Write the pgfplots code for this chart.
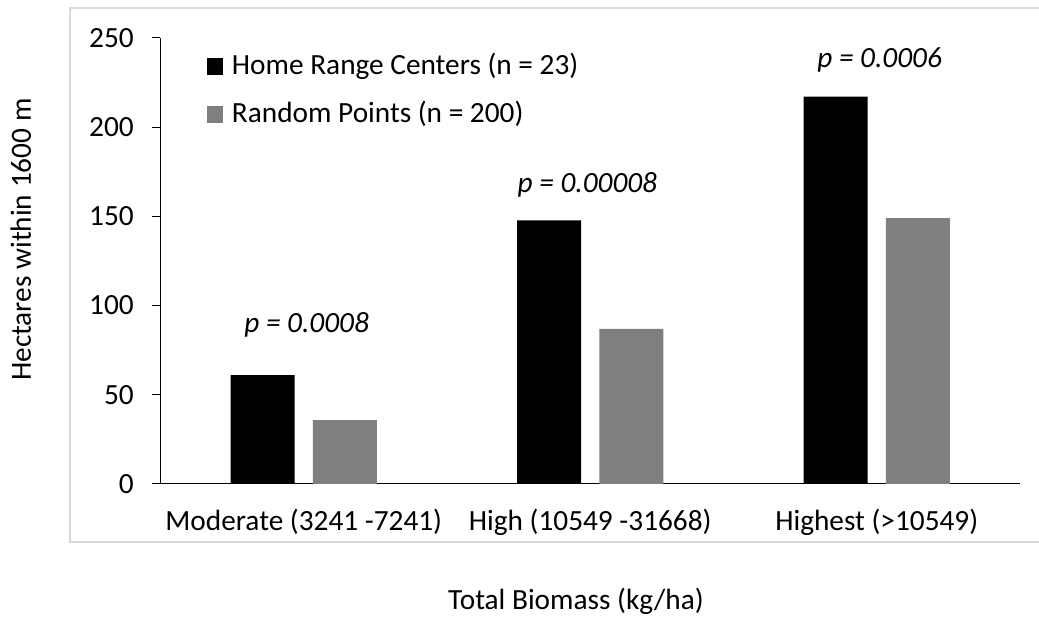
\documentclass[border=0pt]{standalone}
\usepackage{pgfplots}
\pgfplotsset{compat=1.18}
\usepackage{fontspec}
\setmainfont{Carlito}
\definecolor{bargray}{RGB}{127,127,127}
\definecolor{bordergray}{RGB}{217,217,217}
\newcommand{\fs}{\fontsize{29.3}{35}\selectfont}
\begin{document}
\begin{tikzpicture}[x=1pt,y=1pt]
\useasboundingbox (-160.5,-133) rectangle (878.5,484);
\draw[bordergray, line width=1.2pt] (1000,476) -- (-90.5,476) -- (-90.5,-58) -- (1000,-58);
\begin{axis}[
  at={(0,0)}, anchor=south west,
  scale only axis, width=859.5pt, height=446pt,
  xmin=-0.5, xmax=2.5, ymin=0, ymax=250,
  axis x line*=bottom, axis y line*=left,
  axis line style={line width=1pt, black},
  xtick={0,1,2},
  xticklabels={Moderate (3241 -7241), High (10549 -31668), Highest (>10549)},
  xtick style={draw=none},
  ytick={0,50,100,150,200,250},
  ytick style={line width=1pt, black},
  tick align=outside, major tick length=8.5pt,
  tick label style={font=\fs},
  xticklabel style={anchor=base, inner sep=0pt, yshift=-38.5pt},
  yticklabel style={anchor=east, inner sep=0pt, xshift=-18pt},
  /pgf/number format/assume math mode=true,
  ybar, bar width=0.2235,
  legend style={at={(0.0541,0.962)}, anchor=north west, draw=none, fill=none,
    inner sep=0pt, outer sep=0pt, font=\fs, row sep=22pt, column sep=9pt,
    nodes={inner sep=0pt, text height=20pt, text depth=6pt, anchor=base west}},
  legend cell align=left,
  legend image code/.code={\fill[#1] (0pt,0pt) rectangle (16pt,17pt);},
]
\addplot[fill=black, draw=none, bar shift=-0.1432] coordinates {(0,61) (1,147.8) (2,217.2)};
\addlegendentry{Home Range Centers (n = 23)}
\addplot[fill=bargray, draw=none, bar shift=0.1432] coordinates {(0,35.8) (1,87) (2,149)};
\addlegendentry{Random Points (n = 200)}
\node[font=\fs\itshape, anchor=base, inner sep=0pt] at (axis cs:0.01,85) {p = 0.0008};
\node[font=\fs\itshape, anchor=base, inner sep=0pt] at (axis cs:0.99,163.5) {p = 0.00008};
\node[font=\fs\itshape, anchor=base, inner sep=0pt] at (axis cs:2.01,233.5) {p = 0.0006};
\end{axis}
\node[font=\fs, anchor=base, inner sep=0pt] at (415.5,-126) {Total Biomass (kg/ha)};
\node[font=\fs, anchor=base west, rotate=90, inner sep=0pt] at (-129.5,103) {Hectares within 1600 m};
\end{tikzpicture}
\end{document}
